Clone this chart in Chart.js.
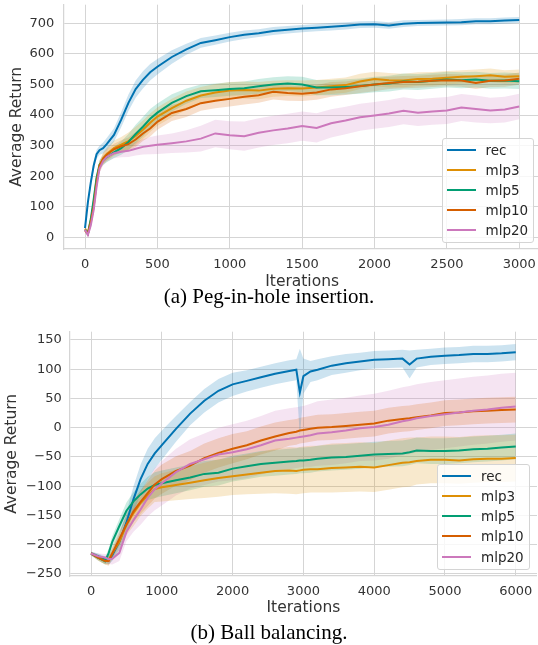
<!DOCTYPE html>
<html>
<head>
<meta charset="utf-8">
<script src="https://cdn.jsdelivr.net/npm/chart.js@4.4.1/dist/chart.umd.min.js"></script>
<style>
  html, body { margin: 0; padding: 0; background: #fff; overflow: hidden; }
  body { width: 538px; height: 645px; position: relative; }
  canvas { position: absolute; left: 0; }
  .caption {
    position: absolute; left: 0; width: 538px; text-align: center;
    font-family: 'Liberation Serif', 'Times New Roman', serif; font-size: 21px;
    line-height: 24px; color: #000;
  }
  .legend {
    position: absolute; box-sizing: border-box;
    background: rgba(255, 255, 255, 0.8); border: 1px solid #d4d4d4; border-radius: 3px;
    font-family: 'DejaVu Sans', sans-serif; font-size: 13.5px; color: #262626;
  }
  .legend .handle { position: absolute; height: 2px; }
  .legend .label { position: absolute; height: 20px; line-height: 20px; white-space: nowrap; }
</style>
</head>
<body>
<canvas id="pegChart" width="541" height="291" style="top:0px"></canvas>
<div class="caption" style="top:284px">(a) Peg-in-hole insertion.</div>
<div class="legend" id="pegLegend" style="left:442px; top:138px; width:92px; height:105px"></div>

<canvas id="ballChart" width="537" height="297" style="top:320px"></canvas>
<div class="caption" style="top:620px">(b) Ball balancing.</div>
<div class="legend" id="ballLegend" style="left:437px; top:464px; width:93px; height:106px"></div>

<script>
const seriesNames = ['rec', 'mlp3', 'mlp5', 'mlp10', 'mlp20'];
const seriesColors = ['#0173b2', '#de8f05', '#029e73', '#d55e00', '#cc78bc'];

// (a) peg-in-hole
const pegIters = [0, 20, 40, 60, 80, 100, 125, 150, 200, 250, 300, 350, 400, 450, 500, 600, 700, 800, 900, 1000,
  1100, 1200, 1300, 1400, 1500, 1600, 1700, 1800, 1900, 2000, 2100, 2200, 2300, 2400, 2500, 2600, 2700, 2800, 2900, 3000];
const pegXTicks = [0, 500, 1000, 1500, 2000, 2500, 3000];
const pegYTicks = [0, 100, 200, 300, 400, 500, 600, 700];

const pegRec = [30, 115, 180, 235, 272, 285, 292, 305, 335, 385, 440, 485, 515, 540, 558, 590, 615, 636, 645, 655,
  663, 668, 675, 679, 683, 686, 689, 692, 696, 697, 693, 699, 701, 702, 703, 704, 707, 707, 709, 711];
const pegMlp3 = [28, 15, 55, 110, 190, 230, 258, 272, 292, 303, 315, 332, 352, 375, 395, 423, 447, 464, 474, 480,
  482, 480, 486, 488, 487, 490, 494, 498, 510, 518, 514, 513, 518, 519, 522, 525, 527, 530, 525, 527];
const pegMlp5 = [25, 12, 60, 125, 195, 238, 252, 262, 278, 292, 312, 338, 362, 388, 408, 440, 462, 478, 481, 485,
  488, 494, 500, 503, 500, 490, 490, 492, 495, 500, 503, 510, 508, 512, 516, 514, 516, 512, 513, 511];
const pegMlp10 = [22, 12, 50, 100, 180, 235, 258, 270, 288, 298, 305, 320, 340, 356, 378, 407, 420, 439, 447, 453,
  460, 465, 476, 472, 470, 474, 484, 488, 494, 500, 505, 508, 509, 512, 514, 513, 505, 512, 513, 519];
const pegMlp20 = [25, 8, 40, 90, 165, 225, 250, 263, 275, 280, 283, 290, 296, 300, 303, 308, 314, 323, 340, 334,
  331, 342, 350, 356, 364, 358, 373, 382, 393, 399, 405, 414, 408, 412, 415, 425, 420, 415, 418, 428];

// half width of the shaded bands
const pegRecSd = [8, 12, 15, 15, 15, 15, 18, 20, 22, 25, 27, 28, 28, 27, 25, 22, 18, 16, 15, 14,
  14, 13, 13, 12, 12, 12, 12, 12, 11, 11, 11, 11, 10, 10, 10, 10, 10, 10, 10, 10];
const pegMlp3Sd = [8, 8, 10, 12, 15, 18, 20, 22, 25, 25, 28, 30, 30, 30, 30, 30, 30, 28, 28, 28,
  28, 28, 26, 26, 26, 25, 25, 25, 25, 24, 24, 22, 22, 22, 22, 22, 22, 22, 22, 22];
const pegMlp5Sd = [8, 8, 10, 12, 14, 15, 15, 16, 18, 22, 26, 30, 32, 32, 30, 28, 25, 22, 22, 22,
  22, 24, 24, 24, 25, 25, 25, 25, 25, 25, 26, 26, 26, 26, 26, 26, 26, 26, 26, 26];
const pegMlp10Sd = [8, 8, 10, 12, 14, 15, 16, 18, 18, 20, 22, 24, 25, 26, 26, 26, 26, 25, 25, 25,
  25, 25, 25, 25, 24, 24, 24, 22, 22, 22, 20, 20, 20, 20, 20, 20, 20, 20, 20, 20];
const pegMlp20Sd = [8, 8, 10, 12, 14, 15, 15, 16, 16, 18, 20, 22, 25, 28, 30, 32, 36, 42, 45, 46,
  48, 48, 48, 48, 48, 48, 46, 45, 44, 44, 44, 44, 44, 44, 44, 44, 44, 42, 42, 42];

// (b) ball balancing
const ballIters = [0, 100, 200, 250, 300, 400, 500, 600, 700, 800, 900, 1000, 1200, 1400, 1600, 1800,
  2000, 2200, 2400, 2600, 2800, 2900, 2950, 3000, 3100, 3200, 3400, 3600, 3800, 4000, 4200, 4400,
  4500, 4600, 4800, 5000, 5200, 5400, 5600, 5800, 6000];
const ballXTicks = [0, 1000, 2000, 3000, 4000, 5000, 6000];
const ballYTicks = [-250, -200, -150, -100, -50, 0, 50, 100, 150];

const ballRec = [-215, -220, -226, -226, -218, -195, -162, -122, -88, -62, -44, -30, -2, 24, 46, 63,
  74, 80, 86, 92, 97, 99, 60, 88, 96, 99, 106, 110, 113, 116, 117, 118,
  108, 118, 121, 123, 124, 126, 126, 127, 129];
const ballMlp3 = [-215, -222, -228, -226, -215, -195, -166, -146, -129, -116, -105, -102, -98, -94, -90, -86,
  -83, -80, -77, -74, -73, -74, -73, -72, -71, -71, -69, -68, -67, -68, -64, -60,
  -59, -57, -55, -55, -56, -54, -53, -53, -52];
const ballMlp5 = [-215, -222, -228, -214, -195, -168, -142, -126, -114, -104, -98, -95, -90, -85, -79, -77,
  -70, -66, -62, -60, -58, -57, -56, -56, -55, -53, -51, -50, -48, -46, -45, -44,
  -42, -39, -40, -40, -39, -37, -36, -34, -32];
const ballMlp10 = [-215, -222, -228, -228, -215, -190, -166, -143, -127, -112, -97, -88, -74, -65, -52, -43,
  -36, -30, -22, -15, -9, -7, -5, -4, -2, 0, 1, 3, 5, 7, 12, 15,
  16, 18, 21, 25, 26, 28, 29, 30, 31];
const ballMlp20 = [-215, -220, -222, -225, -224, -214, -178, -158, -140, -120, -105, -95, -76, -62, -54, -46,
  -42, -37, -30, -22, -19, -17, -16, -15, -13, -10, -8, -5, -1, 1, 5, 11,
  13, 16, 20, 23, 26, 29, 31, 34, 36];

const ballRecSd = [3, 5, 6, 8, 10, 14, 18, 22, 25, 26, 26, 25, 22, 20, 20, 20,
  20, 18, 18, 18, 18, 18, 75, 30, 18, 18, 16, 16, 15, 15, 15, 15,
  24, 15, 14, 14, 14, 14, 14, 14, 14];
const ballMlp3Sd = [3, 5, 6, 8, 10, 14, 18, 22, 22, 22, 22, 24, 26, 28, 30, 32,
  32, 34, 36, 38, 40, 40, 40, 40, 40, 40, 42, 42, 42, 42, 42, 42,
  42, 40, 40, 40, 40, 40, 40, 40, 40];
const ballMlp5Sd = [3, 5, 6, 8, 10, 12, 14, 16, 18, 20, 22, 22, 22, 22, 22, 22,
  22, 22, 22, 22, 22, 22, 22, 22, 22, 22, 22, 22, 22, 22, 22, 22,
  22, 22, 22, 22, 22, 22, 22, 22, 22];
const ballMlp10Sd = [3, 5, 6, 8, 10, 12, 15, 18, 20, 22, 24, 25, 25, 25, 25, 25,
  25, 24, 24, 24, 22, 22, 22, 22, 22, 22, 22, 22, 22, 22, 22, 22,
  22, 22, 22, 22, 22, 22, 22, 22, 22];
const ballMlp20Sd = [3, 5, 6, 8, 10, 14, 16, 20, 26, 32, 36, 38, 40, 42, 44, 46,
  48, 49, 50, 51, 52, 52, 52, 52, 54, 55, 56, 56, 56, 57, 58, 58,
  58, 58, 58, 58, 58, 58, 58, 58, 58];

const gridColor = '#d5d5d5';
const textColor = '#333333';
const fontFamily = "'DejaVu Sans', sans-serif";

function withAlpha(hex, a) {
    const n = parseInt(hex.slice(1), 16);
    return 'rgba(' + (n >> 16) + ',' + ((n >> 8) & 255) + ',' + (n & 255) + ',' + a + ')';
}

function fmtTick(v) {
    return v < 0 ? '\u2212' + Math.abs(v) : String(v);
}

function buildDatasets(iters, means, spreads) {
    const ds = [];
    means.forEach((mean, i) => {
        const color = seriesColors[i];
        ds.push({
            data: mean.map((v, k) => ({x: iters[k], y: v - spreads[i][k]})),
            borderWidth: 0, borderColor: 'transparent', pointRadius: 0, fill: false, order: 20
        });
        ds.push({
            data: mean.map((v, k) => ({x: iters[k], y: v + spreads[i][k]})),
            borderWidth: 0, borderColor: 'transparent', pointRadius: 0,
            fill: '-1', backgroundColor: withAlpha(color, 0.2), order: 20
        });
        ds.push({
            label: seriesNames[i],
            data: mean.map((v, k) => ({x: iters[k], y: v})),
            borderColor: color, borderWidth: 2, pointRadius: 0, fill: false,
            order: 5 - i
        });
    });
    return ds;
}

function buildLegend(el, rowTops, handleLeft, textLeft) {
    seriesNames.forEach((name, i) => {
        const h = document.createElement('div');
        h.className = 'handle';
        h.style.left = handleLeft + 'px';
        h.style.width = '29px';
        h.style.top = Math.round(rowTops[i] - 1) + 'px';
        h.style.background = seriesColors[i];
        el.appendChild(h);
        const t = document.createElement('div');
        t.className = 'label';
        t.style.left = textLeft + 'px';
        t.style.top = (rowTops[i] - 10) + 'px';
        t.textContent = name;
        el.appendChild(t);
    });
}

function initChart(canvas, cfg) {
    const axisFont = {family: fontFamily, size: 13};
    const titleFont = {family: fontFamily, size: 15.5};
    return new Chart(canvas, {
        type: 'line',
        data: {datasets: buildDatasets(cfg.iters, cfg.means, cfg.spreads)},
        options: {
            responsive: false,
            animation: false,
            events: [],
            layout: {padding: {top: cfg.padTop, left: 0, right: 0, bottom: 0}},
            elements: {line: {tension: 0}},
            plugins: {
                legend: {display: false},
                tooltip: {enabled: false},
                filler: {propagate: false, drawTime: 'beforeDatasetsDraw'}
            },
            scales: {
                x: {
                    type: 'linear',
                    min: cfg.xMin, max: cfg.xMax,
                    afterBuildTicks: s => { s.ticks = cfg.xTicks.map(v => ({value: v})); },
                    afterFit: s => {
                        s.height = cfg.xAxisHeight;
                        s.paddingLeft = 0; s.paddingRight = 0;
                    },
                    grid: {color: gridColor, lineWidth: 1, drawTicks: false},
                    border: {color: gridColor, width: 1.25},
                    ticks: {color: textColor, font: axisFont, padding: 8, maxRotation: 0, autoSkip: false, callback: fmtTick},
                    title: {display: true, text: 'Iterations', color: textColor, font: titleFont, padding: 0}
                },
                y: {
                    type: 'linear',
                    min: cfg.yMin, max: cfg.yMax,
                    afterBuildTicks: s => { s.ticks = cfg.yTicks.map(v => ({value: v})); },
                    afterFit: s => {
                        s.width = cfg.yAxisWidth;
                        s.paddingTop = 0; s.paddingBottom = 0;
                    },
                    grid: {color: gridColor, lineWidth: 1, drawTicks: false},
                    border: {color: gridColor, width: 1.25},
                    ticks: {color: textColor, font: axisFont, padding: cfg.yTickPad, autoSkip: false, callback: fmtTick},
                    title: {display: true, text: 'Average Return', color: textColor, font: titleFont, padding: {top: cfg.yTitlePad, bottom: 0}}
                }
            }
        }
    });
}

initChart(document.getElementById('pegChart'), {
    iters: pegIters,
    means: [pegRec, pegMlp3, pegMlp5, pegMlp10, pegMlp20],
    spreads: [pegRecSd, pegMlp3Sd, pegMlp5Sd, pegMlp10Sd, pegMlp20Sd],
    xTicks: pegXTicks, yTicks: pegYTicks,
    xMin: -150, xMax: 3150, yMin: -38, yMax: 761,
    padTop: 4.7, xAxisHeight: 42, yAxisWidth: 63.3, yTickPad: 9, yTitlePad: 7.4
});

initChart(document.getElementById('ballChart'), {
    iters: ballIters,
    means: [ballRec, ballMlp3, ballMlp5, ballMlp10, ballMlp20],
    spreads: [ballRecSd, ballMlp3Sd, ballMlp5Sd, ballMlp10Sd, ballMlp20Sd],
    xTicks: ballXTicks, yTicks: ballYTicks,
    xMin: -300, xMax: 6300, yMin: -253.5, yMax: 164,
    padTop: 11.7, xAxisHeight: 41, yAxisWidth: 69.8, yTickPad: 8, yTitlePad: 3
});

buildLegend(document.getElementById('pegLegend'), [10.5, 31, 51, 71, 90.5], 3.5, 42.5);
buildLegend(document.getElementById('ballLegend'), [11, 31, 51, 71, 91.5], 4, 43);
</script>
</body>
</html>
